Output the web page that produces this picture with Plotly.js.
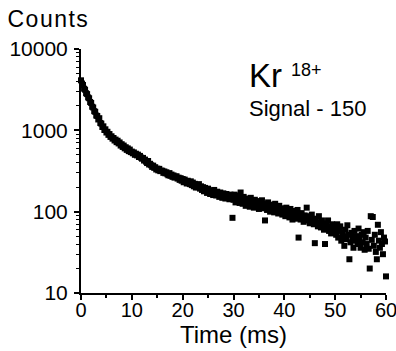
<!DOCTYPE html>
<html>
<head>
<meta charset="utf-8">
<script src="https://cdn.plot.ly/plotly-3.0.1.min.js"></script>
<style>html,body{margin:0;padding:0;background:#fff;}#chart{width:396px;height:351px;}
#chart .annotation[data-index="0"] text{letter-spacing:1.5px;}</style>
</head>
<body>
<div id="chart"></div>
<script>
// Sampling step (ms) and counts, in 10 ms blocks
const timeStep = 0.2;
const blockStarts = [0, 10, 20, 30, 40, 50];
const counts0to10 = [4120, 3760, 3610, 3250, 3160, 2860, 2790, 2540, 2480, 2230,
  2170, 1950, 1910, 1720, 1690, 1520, 1500, 1360, 1410, 1230,
  1210, 1100, 1120, 1010, 1030, 940, 960, 880, 900, 830,
  845, 790, 805, 750, 770, 715, 745, 690, 710, 650,
  675, 625, 650, 600, 620, 575, 600, 555, 580, 540];
const counts10to20 = [548, 522, 535, 500, 516, 492, 503, 470, 485, 462,
  448, 458, 425, 437, 412, 396, 420, 380, 388, 372,
  355, 368, 346, 352, 330, 338, 322, 336, 315, 320,
  318, 300, 312, 296, 305, 288, 280, 298, 276, 286,
  268, 279, 262, 270, 272, 255, 262, 246, 258, 240];
const counts20to30 = [252, 230, 248, 236, 222, 240, 225, 218, 236, 212,
  228, 205, 220, 198, 214, 200, 218, 192, 205, 185,
  200, 178, 196, 186, 170, 192, 178, 165, 182, 172,
  160, 185, 168, 158, 176, 162, 152, 172, 160, 148,
  168, 155, 145, 165, 150, 158, 142, 162, 150, 84];
const counts30to40 = [140, 162, 130, 150, 138, 158, 128, 172, 140, 125,
  152, 132, 118, 145, 128, 138, 115, 148, 122, 132,
  112, 140, 125, 118, 135, 108, 128, 120, 138, 110,
  124, 78, 118, 105, 130, 112, 100, 122, 108, 115,
  98, 125, 105, 112, 95, 118, 102, 110, 92, 108];
const counts40to50 = [105, 88, 112, 95, 100, 85, 108, 92, 80, 102,
  90, 98, 82, 105, 48, 92, 80, 96, 84, 75,
  90, 82, 112, 78, 88, 72, 84, 92, 76, 70,
  41, 82, 74, 66, 88, 72, 64, 78, 68, 60,
  40, 72, 62, 78, 58, 66, 54, 70, 60, 56];
const counts50to60 = [62, 52, 70, 48, 58, 66, 44, 56, 50, 38,
  60, 46, 68, 52, 26, 42, 55, 48, 36, 58,
  44, 50, 40, 62, 46, 36, 52, 42, 56, 34,
  48, 40, 58, 35, 20, 88, 45, 86, 38, 52,
  32, 26, 69, 44, 36, 56, 40, 30, 48, 43,
  16];
const xTickVals = [0, 10, 20, 30, 40, 50, 60];
const yTickVals = [10, 100, 1000, 10000];
const yTickText = ['10', '100', '1000', '10000'];

const blocks = [counts0to10, counts10to20, counts20to30, counts30to40, counts40to50, counts50to60];
const times = [], counts = [];
blocks.forEach((blk, b) => {
  blk.forEach((v, i) => {
    times.push(+(blockStarts[b] + i * timeStep).toFixed(2));
    counts.push(v);
  });
});

const FONT = 'Liberation Sans, Arial, sans-serif';
const trace = {
  x: times, y: counts, type: 'scatter', mode: 'markers',
  marker: {symbol: 'square', size: 6, color: '#000', line: {width: 0}},
  cliponaxis: false, hoverinfo: 'skip'
};

const layout = {
  width: 396, height: 351,
  margin: {l: 81, r: 10, t: 49, b: 58},
  paper_bgcolor: '#fff', plot_bgcolor: '#fff',
  showlegend: false,
  font: {family: FONT, color: '#000'},
  xaxis: {
    range: [0, 60], tickvals: xTickVals, showgrid: false, zeroline: false,
    showline: true, linecolor: '#000', linewidth: 2,
    ticks: 'outside', ticklen: 5, tickwidth: 2, tickcolor: '#000',
    tickfont: {family: FONT, size: 20, color: '#000'},
    ticklabeloverflow: 'allow', ticklabelstandoff: -7,
    minor: {ticks: 'outside', dtick: 5, tick0: 0, ticklen: 3, tickwidth: 2, tickcolor: '#000', showgrid: false},
    title: {text: 'Time (ms)', font: {family: FONT, size: 24, color: '#000'}, standoff: 4},
    automargin: false
  },
  yaxis: {
    type: 'log', range: [1, 4], tickvals: yTickVals, ticktext: yTickText,
    showgrid: false, zeroline: false,
    showline: true, linecolor: '#000', linewidth: 2,
    ticks: 'outside', ticklen: 5, tickwidth: 2, tickcolor: '#000',
    tickfont: {family: FONT, size: 21, color: '#000'},
    ticklabeloverflow: 'allow', ticklabelstandoff: 2,
    minor: {ticks: 'outside', dtick: 'D1', ticklen: 3, tickwidth: 1, tickcolor: '#000', showgrid: false},
    automargin: false
  },
  annotations: [
    {text: 'Counts', xref: 'paper', yref: 'paper', x: -0.233, y: 1.125, xanchor: 'left', yanchor: 'middle',
     showarrow: false, font: {family: FONT, size: 23, color: '#000'}},
    {text: 'Kr', xref: 'paper', yref: 'paper', x: 0.545, y: 0.89, xanchor: 'left', yanchor: 'middle',
     showarrow: false, font: {family: FONT, size: 33, color: '#000'}},
    {text: '18+', xref: 'paper', yref: 'paper', x: 0.683, y: 0.915, xanchor: 'left', yanchor: 'middle',
     showarrow: false, font: {family: FONT, size: 18, color: '#000'}},
    {text: 'Signal - 150', xref: 'paper', yref: 'paper', x: 0.545, y: 0.755, xanchor: 'left', yanchor: 'middle',
     showarrow: false, font: {family: FONT, size: 22, color: '#000'}}
  ]
};

Plotly.newPlot('chart', [trace], layout, {displayModeBar: false, staticPlot: true});
</script>
</body>
</html>
